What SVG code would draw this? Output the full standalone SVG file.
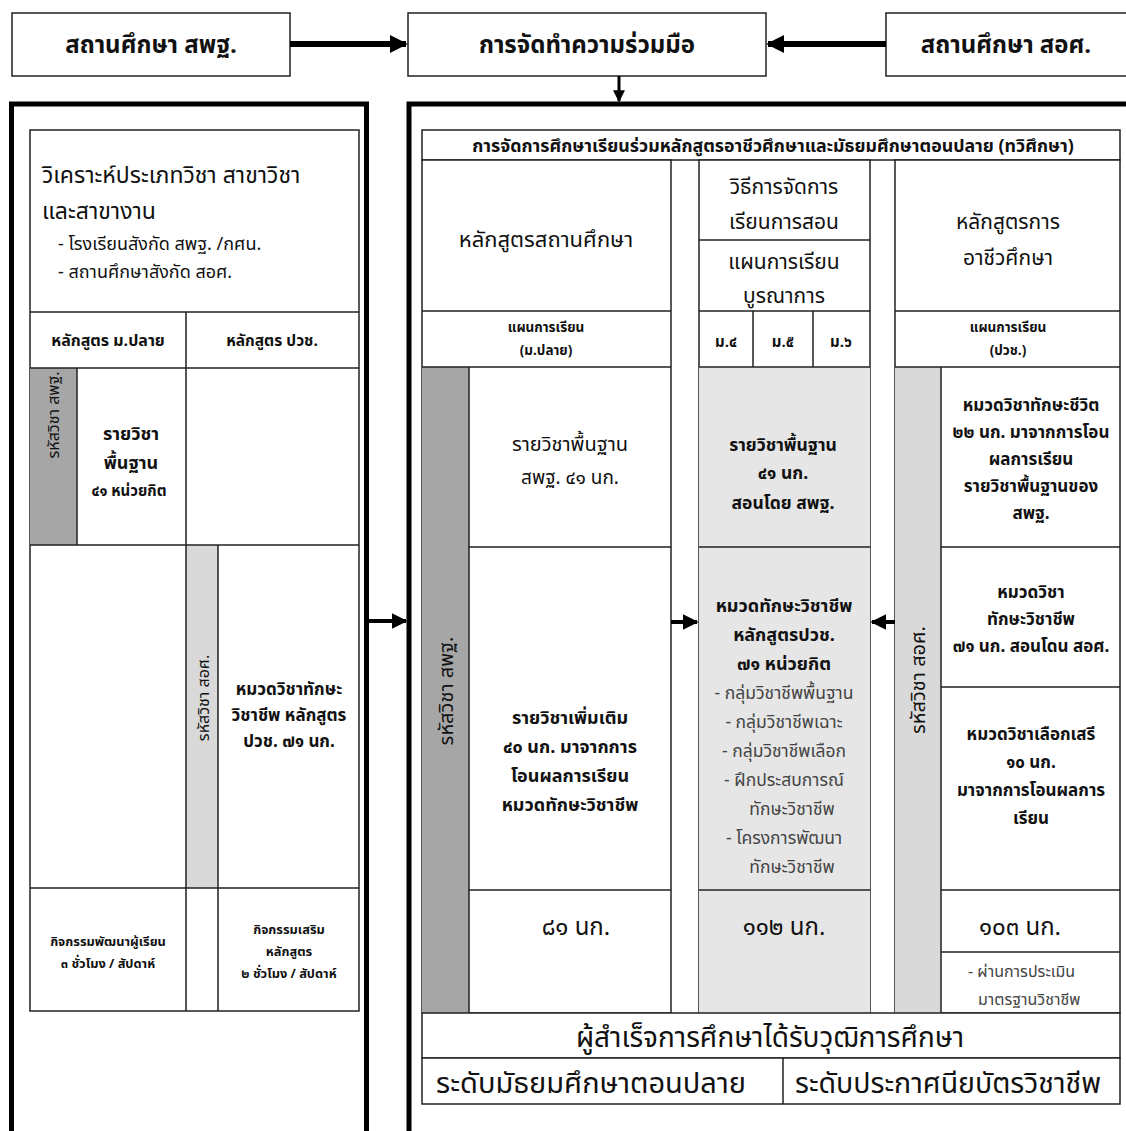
<svg xmlns="http://www.w3.org/2000/svg" width="1126" height="1131" viewBox="0 0 1126 1131">
<style>
text{font-family:"Noto Sans Thai","Noto Sans","DejaVu Sans",sans-serif;fill:#111;text-anchor:middle}
text.s{text-anchor:start}
.b{font-weight:bold}
.ln{stroke:#222;stroke-width:1.5;fill:none}
.cell{stroke:#222;stroke-width:1.5;fill:#fff}
.thick{stroke:#000;stroke-width:5;fill:none}
.arr{stroke:#000;stroke-width:6;fill:none}
.dk{fill:#a6a6a6}
.lt{fill:#d9d9d9}
.lt2{fill:#e6e6e6}
text.g{fill:#444}
</style>
<defs>
<marker id="ah" viewBox="0 0 10 10" refX="9" refY="5" markerWidth="3" markerHeight="3" orient="auto" markerUnits="strokeWidth">
<path d="M0,0 L10,5 L0,10 z" fill="#000"/>
</marker>
<marker id="ah2" viewBox="0 0 10 10" refX="9" refY="5" markerWidth="4" markerHeight="4" orient="auto" markerUnits="strokeWidth">
<path d="M0,0 L10,5 L0,10 z" fill="#000"/>
</marker>
</defs>
<rect width="1126" height="1131" fill="#fff"/>

<!-- top nodes -->
<g id="n-obec">
<rect x="12" y="13" width="278" height="63" class="cell" stroke-width="2"/>
<text x="151" y="53" font-size="24" class="b">สถานศึกษา สพฐ.</text>
</g>
<g id="n-coop">
<rect x="408" y="13" width="358" height="63" class="cell" stroke-width="2"/>
<text x="587" y="53" font-size="24" class="b">การจัดทำความร่วมมือ</text>
</g>
<g id="n-ovec">
<rect x="886" y="13" width="250" height="63" class="cell" stroke-width="2"/>
<text x="1006" y="53" font-size="24" class="b">สถานศึกษา สอศ.</text>
</g>

<!-- left outer box -->
<g id="n-left">
<path d="M11.5,1131 V104 H366.5 V1131" class="thick"/>
<rect x="30" y="130" width="329" height="881" class="cell"/>
<rect x="30" y="368" width="47" height="177" class="dk"/>
<rect x="186" y="545" width="32" height="343" class="lt"/>
<path d="M30,312 H359 M30,368 H359 M30,545 H359 M30,888 H359 M186,312 V1011 M218,545 V1011 M77,368 V545" class="ln"/>
<text x="42" y="183" font-size="23" class="s">วิเคราะห์ประเภทวิชา สาขาวิชา</text>
<text x="42" y="219" font-size="23" class="s">และสาขางาน</text>
<text x="58" y="250" font-size="18" class="s">- โรงเรียนสังกัด สพฐ. /กศน.</text>
<text x="58" y="278" font-size="18" class="s">- สถานศึกษาสังกัด สอศ.</text>
<text x="108" y="346" font-size="16" class="b">หลักสูตร ม.ปลาย</text>
<text x="272" y="346" font-size="15.5" class="b">หลักสูตร ปวช.</text>
<text transform="translate(59,415) rotate(-90)" font-size="16">รหัสวิชา สพฐ.</text>
<text x="131" y="440" font-size="18" class="b">รายวิชา</text>
<text x="131" y="469" font-size="18" class="b">พื้นฐาน</text>
<text x="129" y="496" font-size="15" class="b">๔๑ หน่วยกิต</text>
<text transform="translate(209,698) rotate(-90)" font-size="16">รหัสวิชา สอศ.</text>
<text x="289" y="695" font-size="17" class="b">หมวดวิชาทักษะ</text>
<text x="289" y="721" font-size="17" class="b">วิชาชีพ หลักสูตร</text>
<text x="289" y="747" font-size="17" class="b">ปวช. ๗๑ นก.</text>
<text x="108" y="946" font-size="12.8" class="b">กิจกรรมพัฒนาผู้เรียน</text>
<text x="108" y="968" font-size="12.8" class="b">๓ ชั่วโมง / สัปดาห์</text>
<text x="289" y="934" font-size="12.8" class="b">กิจกรรมเสริม</text>
<text x="289" y="956" font-size="12.8" class="b">หลักสูตร</text>
<text x="289" y="978" font-size="12.8" class="b">๒ ชั่วโมง / สัปดาห์</text>
</g>

<!-- right outer box -->
<g id="n-right">
<path d="M409,1131 V104 H1126" class="thick"/>
<rect x="422" y="130" width="698" height="30" class="cell"/>
<text x="773" y="152" font-size="17.8" class="b">การจัดการศึกษาเรียนร่วมหลักสูตรอาชีวศึกษาและมัธยมศึกษาตอนปลาย (ทวิศึกษา)</text>
</g>

<g id="n-col1">
<rect x="422" y="160" width="249" height="853" class="cell"/>
<rect x="422" y="367" width="47" height="646" class="dk"/>
<path d="M422,311 H671 M422,367 H671 M469,547 H671 M469,890 H671 M469,367 V1013" class="ln"/>
<text x="546" y="247" font-size="22">หลักสูตรสถานศึกษา</text>
<text x="546" y="332" font-size="13.5" class="b">แผนการเรียน</text>
<text x="546" y="355" font-size="13.5" class="b">(ม.ปลาย)</text>
<text transform="translate(453,691) rotate(-90)" font-size="20">รหัสวิชา สพฐ.</text>
<text x="570" y="451" font-size="20">รายวิชาพื้นฐาน</text>
<text x="570" y="484" font-size="19">สพฐ. ๔๑ นก.</text>
<text x="570" y="724" font-size="18" class="b">รายวิชาเพิ่มเติม</text>
<text x="570" y="753" font-size="18" class="b">๔๐ นก. มาจากการ</text>
<text x="570" y="782" font-size="18" class="b">โอนผลการเรียน</text>
<text x="570" y="811" font-size="18" class="b">หมวดทักษะวิชาชีพ</text>
<text x="576" y="935" font-size="24">๘๑ นก.</text>
</g>

<g id="n-col2">
<rect x="699" y="160" width="171" height="853" class="cell"/>
<rect x="699" y="367" width="171" height="646" class="lt2"/>
<path d="M699,240 H870 M699,311 H870 M699,367 H870 M699,547 H870 M699,890 H870 M753,311 V367 M813,311 V367" class="ln"/>
<text x="784" y="194" font-size="21">วิธีการจัดการ</text>
<text x="784" y="229" font-size="21">เรียนการสอน</text>
<text x="784" y="269" font-size="21">แผนการเรียน</text>
<text x="784" y="303" font-size="21">บูรณาการ</text>
<text x="726" y="347" font-size="15" class="b">ม.๔</text>
<text x="783" y="347" font-size="15" class="b">ม.๕</text>
<text x="841" y="347" font-size="15" class="b">ม.๖</text>
<text x="783" y="451" font-size="17.5" class="b">รายวิชาพื้นฐาน</text>
<text x="783" y="479" font-size="17.5" class="b">๔๑ นก.</text>
<text x="783" y="509" font-size="17.5" class="b">สอนโดย สพฐ.</text>
<text x="784" y="612" font-size="18" class="b">หมวดทักษะวิชาชีพ</text>
<text x="784" y="641" font-size="18" class="b">หลักสูตรปวช.</text>
<text x="784" y="670" font-size="18" class="b">๗๑ หน่วยกิต</text>
<text x="784" y="699" font-size="17.5" class="g">- กลุ่มวิชาชีพพื้นฐาน</text>
<text x="784" y="728" font-size="17.5" class="g">- กลุ่มวิชาชีพเฉาะ</text>
<text x="784" y="757" font-size="17.5" class="g">- กลุ่มวิชาชีพเลือก</text>
<text x="784" y="786" font-size="17.5" class="g">- ฝึกประสบการณ์</text>
<text x="792" y="815" font-size="17.5" class="g">ทักษะวิชาชีพ</text>
<text x="784" y="844" font-size="17.5" class="g">- โครงการพัฒนา</text>
<text x="792" y="873" font-size="17.5" class="g">ทักษะวิชาชีพ</text>
<text x="784" y="935" font-size="24">๑๑๒ นก.</text>
</g>

<g id="n-col3">
<rect x="895" y="160" width="225" height="853" class="cell"/>
<rect x="895" y="367" width="46" height="646" class="lt"/>
<path d="M895,311 H1120 M895,367 H1120 M941,547 H1120 M941,687 H1120 M941,890 H1120 M941,952 H1120 M941,367 V1013" class="ln"/>
<text x="1008" y="229" font-size="21">หลักสูตรการ</text>
<text x="1008" y="265" font-size="21">อาชีวศึกษา</text>
<text x="1008" y="332" font-size="13.5" class="b">แผนการเรียน</text>
<text x="1008" y="355" font-size="13.5" class="b">(ปวช.)</text>
<text transform="translate(925,680) rotate(-90)" font-size="20">รหัสวิชา สอศ.</text>
<text x="1031" y="411" font-size="17" class="b">หมวดวิชาทักษะชีวิต</text>
<text x="1031" y="438" font-size="17" class="b">๒๒ นก. มาจากการโอน</text>
<text x="1031" y="465" font-size="17" class="b">ผลการเรียน</text>
<text x="1031" y="492" font-size="17" class="b">รายวิชาพื้นฐานของ</text>
<text x="1031" y="519" font-size="17" class="b">สพฐ.</text>
<text x="1031" y="598" font-size="17" class="b">หมวดวิชา</text>
<text x="1031" y="625" font-size="17" class="b">ทักษะวิชาชีพ</text>
<text x="1031" y="652" font-size="17" class="b">๗๑ นก. สอนโดน สอศ.</text>
<text x="1031" y="740" font-size="17" class="b">หมวดวิชาเลือกเสรี</text>
<text x="1031" y="768" font-size="17" class="b">๑๐ นก.</text>
<text x="1031" y="796" font-size="17" class="b">มาจากการโอนผลการ</text>
<text x="1031" y="824" font-size="17" class="b">เรียน</text>
<text x="1020" y="935" font-size="24">๑๐๓ นก.</text>
<text x="968" y="977" font-size="16" class="g s">- ผ่านการประเมิน</text>
<text x="978" y="1005" font-size="16" class="g s">มาตรฐานวิชาชีพ</text>
</g>

<g id="n-result">
<rect x="422" y="1013" width="698" height="45" class="cell"/>
<rect x="422" y="1058" width="698" height="46" class="cell"/>
<path d="M783,1058 V1104" class="ln"/>
<text x="770" y="1047" font-size="28">ผู้สำเร็จการศึกษาได้รับวุฒิการศึกษา</text>
<text x="591" y="1093" font-size="29">ระดับมัธยมศึกษาตอนปลาย</text>
<text x="948" y="1093" font-size="28.5">ระดับประกาศนียบัตรวิชาชีพ</text>
</g>

<!-- connectors -->
<g id="connectors">
<line x1="290" y1="44" x2="406" y2="44" class="arr" marker-end="url(#ah)"/>
<line x1="886" y1="44" x2="768" y2="44" class="arr" marker-end="url(#ah)"/>
<line x1="619" y1="76" x2="619" y2="101" stroke="#000" stroke-width="3" marker-end="url(#ah2)"/>
<line x1="369" y1="621" x2="406" y2="621" stroke="#000" stroke-width="4" marker-end="url(#ah2)"/>
<line x1="671" y1="622" x2="697" y2="622" stroke="#000" stroke-width="4" marker-end="url(#ah2)"/>
<line x1="895" y1="622" x2="872" y2="622" stroke="#000" stroke-width="4" marker-end="url(#ah2)"/>
</g>
</svg>
